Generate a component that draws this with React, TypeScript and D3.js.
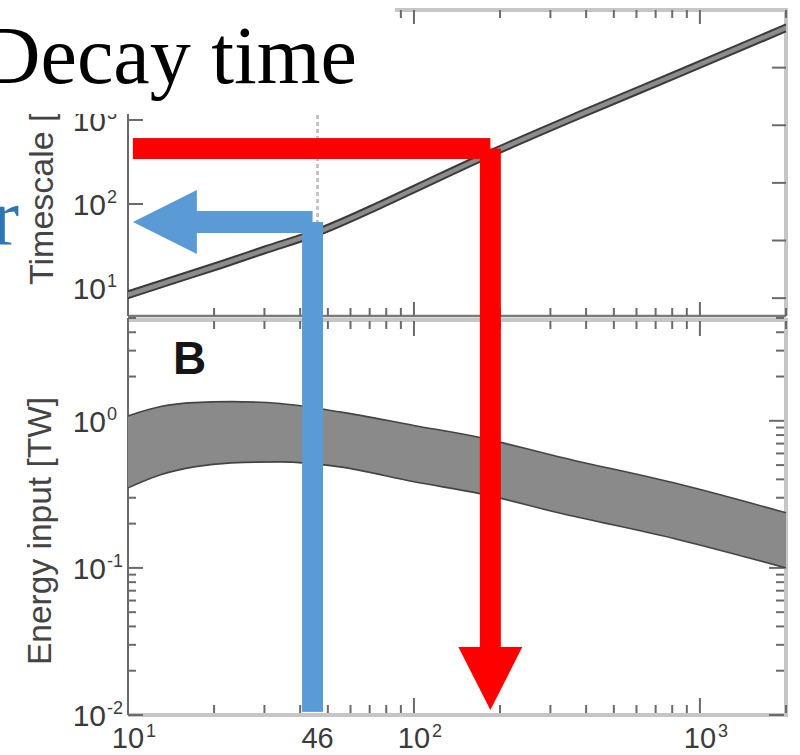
import React from 'react';
import * as d3 from 'd3';

// Panel A: timescale band vs length
const lengthValues = [10, 15, 21, 30, 46, 76, 100, 184, 380, 851, 2000];
const timescaleValues = [8.3, 13.0, 18.8, 28.3, 46, 97, 150, 394, 1150, 3630, 12500];
const timescaleSpread = 1.1;

// Panel B: energy input band
const energyLength = [10, 13, 17, 23, 34, 55, 100, 170, 320, 850, 2000];
const energyUpper = [1.08, 1.25, 1.33, 1.35, 1.31, 1.15, 0.93, 0.77, 0.57, 0.37, 0.237];
const energyLower = [0.35, 0.43, 0.486, 0.518, 0.526, 0.486, 0.385, 0.32, 0.237, 0.155, 0.1];

// Tick labels
const xTickLabels = [
  { v: 10, base: '10', sup: '1' },
  { v: 46, base: '46', sup: '' },
  { v: 100, base: '10', sup: '2' },
  { v: 1000, base: '10', sup: '3' },
];
const timescaleLabels = [
  { v: 10, sup: '1' },
  { v: 100, sup: '2' },
  { v: 1000, sup: '3' },
];
const timescaleMajorTicks = [100, 1000];
const rightTicks = [1, 2, 3, 4, 5];
const energyLabels = [
  { v: 1, sup: '0' },
  { v: 0.1, sup: '-1' },
  { v: 0.01, sup: '-2' },
];

// Annotations (in data units)
const arrowStartLength = 10.4;
const redArrow = { length: 185, timescale: 457, tipEnergy: 0.0108 };
const blueArrow = { length: 44.2, timescale: 61, endEnergy: 0.0105 };
const markerLength = 46;

const SANS = '"Liberation Sans", Arial, sans-serif';
const SERIF = '"Liberation Serif", "Times New Roman", serif';

export default function App() {
  const x = d3.scaleLog().domain([10, 2000]).range([128, 786]);
  const yT = d3.scaleLog().domain([4.64, 20400]).range([316, 10]);
  const yB = d3.scaleLog().domain([0.01, 5]).range([715, 318]);
  const yR = d3.scaleLinear().domain([0.69, 6]).range([316, 10]);

  const topArea = d3
    .area<number>()
    .x((_, i) => x(lengthValues[i]))
    .y0((d) => yT(d / timescaleSpread))
    .y1((d) => yT(d * timescaleSpread))
    .curve(d3.curveMonotoneX);
  const topUpper = d3
    .line<number>()
    .x((_, i) => x(lengthValues[i]))
    .y((d) => yT(d * timescaleSpread))
    .curve(d3.curveMonotoneX);
  const topLower = d3
    .line<number>()
    .x((_, i) => x(lengthValues[i]))
    .y((d) => yT(d / timescaleSpread))
    .curve(d3.curveMonotoneX);

  const botArea = d3
    .area<number>()
    .x((_, i) => x(energyLength[i]))
    .y0((_, i) => yB(energyLower[i]))
    .y1((_, i) => yB(energyUpper[i]))
    .curve(d3.curveMonotoneX);
  const botLine = (arr: number[]) =>
    d3
      .line<number>()
      .x((_, i) => x(energyLength[i]))
      .y((d) => yB(d))
      .curve(d3.curveMonotoneX)(arr) as string;

  const xTicks = x.ticks();
  const isMajor = (v: number) => Math.abs(Math.log10(v) - Math.round(Math.log10(v))) < 1e-6;
  const eTicks = yB.ticks();

  const tickColor = '#6a6a6a';
  const lightBorder = '#c6c6c6';
  const labelColor = '#3a3a3a';

  // arrow geometry from scales
  const rx0 = x(arrowStartLength);
  const rx1 = x(redArrow.length);
  const ry = yT(redArrow.timescale);
  const rTip = yB(redArrow.tipEnergy);
  const bx0 = x(arrowStartLength);
  const bx1 = x(blueArrow.length);
  const by = yT(blueArrow.timescale);
  const bEnd = yB(blueArrow.endEnergy);
  const barW = 21;
  const headLen = 63;
  const headHalf = 32;

  return (
    <svg
      width={800}
      height={755}
      style={{ position: 'absolute', left: 0, top: 0, background: '#fff' }}
    >
      <rect x={0} y={0} width={800} height={755} fill="#fff" />

      {/* ---------- Top panel frame ---------- */}
      <line x1={786} y1={10} x2={786} y2={316} stroke={lightBorder} strokeWidth={4} />
      <line x1={128} y1={10} x2={788} y2={10} stroke={lightBorder} strokeWidth={4} />
      <line x1={128} y1={316} x2={786} y2={316} stroke="#7a7a7a" strokeWidth={2.5} />
      <line x1={128} y1={10} x2={128} y2={316} stroke={tickColor} strokeWidth={2} />
      {xTicks.map((t) => {
        const len = isMajor(t) ? 14 : 8;
        return (
          <g key={'tx' + t}>
            <line x1={x(t)} x2={x(t)} y1={316} y2={316 - len} stroke={tickColor} strokeWidth={2} />
            <line x1={x(t)} x2={x(t)} y1={10} y2={10 + len} stroke={tickColor} strokeWidth={2} />
          </g>
        );
      })}
      {timescaleMajorTicks.map((t) => (
        <line key={'tl' + t} x1={128} x2={143} y1={yT(t)} y2={yT(t)} stroke={tickColor} strokeWidth={2} />
      ))}
      {rightTicks.map((t) => (
        <line key={'tr' + t} x1={772} x2={786} y1={yR(t)} y2={yR(t)} stroke={tickColor} strokeWidth={2} />
      ))}

      {/* dotted marker */}
      <line
        x1={x(markerLength)}
        x2={x(markerLength)}
        y1={10}
        y2={316}
        stroke="#c4c4c4"
        strokeWidth={3}
        strokeDasharray="4,3"
      />

      {/* top band */}
      <path d={topArea(timescaleValues) as string} fill="#8c8c8c" />
      <path d={topUpper(timescaleValues) as string} fill="none" stroke="#3a3a3a" strokeWidth={2} />
      <path d={topLower(timescaleValues) as string} fill="none" stroke="#3a3a3a" strokeWidth={2} />

      {/* ---------- Bottom panel frame ---------- */}
      <line x1={128} y1={320} x2={786} y2={320} stroke={lightBorder} strokeWidth={4} />
      <line x1={786} y1={318} x2={786} y2={717} stroke={lightBorder} strokeWidth={4} />
      <line x1={128} y1={715} x2={788} y2={715} stroke={lightBorder} strokeWidth={4} />
      <line x1={128} y1={318} x2={128} y2={715} stroke={tickColor} strokeWidth={2} />
      {xTicks.map((t) => {
        const len = isMajor(t) ? 15 : 8;
        return (
          <g key={'bx' + t}>
            <line x1={x(t)} x2={x(t)} y1={713} y2={713 - len} stroke={tickColor} strokeWidth={2} />
            <line x1={x(t)} x2={x(t)} y1={321} y2={321 + len} stroke={tickColor} strokeWidth={2} />
          </g>
        );
      })}
      {eTicks.map((t) => {
        const len = isMajor(t) ? 15 : 8;
        return (
          <g key={'by' + t}>
            <line x1={128} x2={128 + len} y1={yB(t)} y2={yB(t)} stroke={tickColor} strokeWidth={2} />
            <line x1={784} x2={784 - len} y1={yB(t)} y2={yB(t)} stroke={tickColor} strokeWidth={2} />
          </g>
        );
      })}

      {/* bottom band */}
      <path d={botArea(energyUpper) as string} fill="#8a8a8a" />
      <path d={botLine(energyUpper)} fill="none" stroke="#444" strokeWidth={1.6} />
      <path d={botLine(energyLower)} fill="none" stroke="#444" strokeWidth={1.6} />

      {/* panel letter */}
      <text x={173} y={374} fontFamily={SANS} fontWeight="bold" fontSize={46} fill="#151515">
        B
      </text>

      {/* ---------- Arrows ---------- */}
      <g fill="#ff0000">
        <rect x={rx0} y={ry - barW / 2} width={rx1 - rx0} height={barW} />
        <rect x={rx1 - barW / 2} y={ry} width={barW} height={rTip - headLen - ry} />
        <polygon
          points={`${rx1 - headHalf},${rTip - headLen} ${rx1 + headHalf},${rTip - headLen} ${rx1},${rTip}`}
        />
      </g>
      <g fill="#5b9bd5">
        <rect x={bx0 + headLen} y={by - 11} width={bx1 - bx0 - headLen} height={22} />
        <polygon
          points={`${bx0},${by} ${bx0 + headLen + 1},${by - headHalf} ${bx0 + headLen + 1},${by + headHalf}`}
        />
        <rect x={bx1 - barW / 2} y={by} width={barW} height={bEnd - by} />
      </g>

      {/* ---------- Tick labels ---------- */}
      {timescaleLabels.map((l) => (
        <g key={'tsl' + l.v} fontFamily={SANS} fill={labelColor}>
          <text x={106} y={yT(l.v) + 11} fontSize={30} textAnchor="end">
            10
          </text>
          <text x={107} y={yT(l.v) - 1} fontSize={18}>
            {l.sup}
          </text>
        </g>
      ))}
      {energyLabels.map((l) => (
        <g key={'el' + l.v} fontFamily={SANS} fill={labelColor}>
          <text x={106} y={yB(l.v) + 11} fontSize={30} textAnchor="end">
            10
          </text>
          <text x={107} y={yB(l.v) - 1} fontSize={18}>
            {l.sup}
          </text>
        </g>
      ))}
      {xTickLabels.map((l) => (
        <g key={'xl' + l.v} fontFamily={SANS} fill={labelColor}>
          <text x={x(l.v)} y={748} fontSize={29} textAnchor="middle">
            {l.base}
          </text>
          {l.sup && (
            <text x={x(l.v) + 18} y={737} fontSize={18}>
              {l.sup}
            </text>
          )}
        </g>
      ))}

      {/* axis titles */}
      <text
        transform="translate(53,285) rotate(-90)"
        fontFamily={SANS}
        fontSize={34}
        fill="#444"
      >
        Timescale [yr]
      </text>
      <text
        transform="translate(51,665) rotate(-90)"
        fontFamily={SANS}
        fontSize={33.5}
        fill="#444"
      >
        Energy input [TW]
      </text>

      {/* overlay title box */}
      <rect x={0} y={0} width={395} height={114} fill="#fff" />
      <text x={357} y={83} fontFamily={SERIF} fontSize={82} fill="#000" textAnchor="end">
        Decay time
      </text>
      <text x={19} y={245} fontFamily={SERIF} fontSize={82} fill="#2e75b6" textAnchor="end">
        r
      </text>
    </svg>
  );
}
